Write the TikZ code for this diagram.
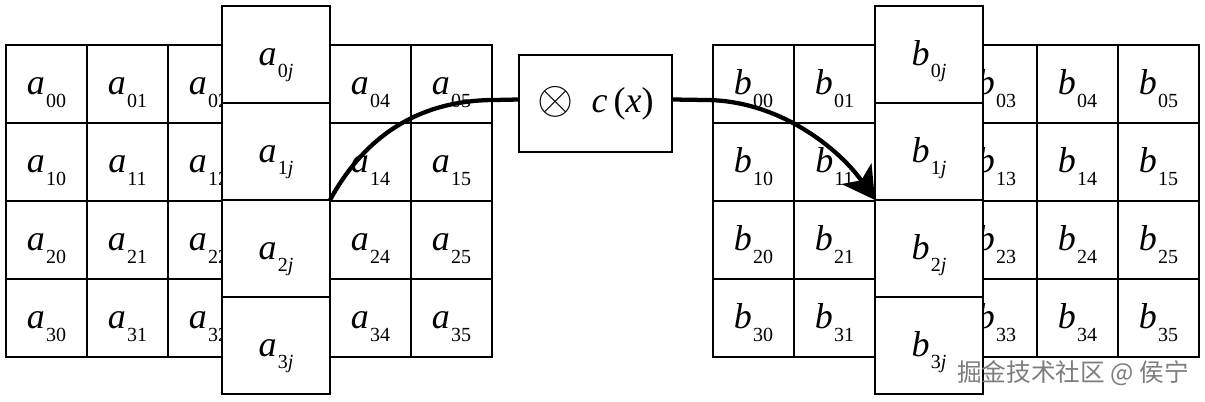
\documentclass[tikz,border=0pt]{standalone}
\usepackage{fontspec}
\setmainfont{Liberation Serif}
\newfontfamily\cjk{Noto Sans CJK SC}
\usetikzlibrary{arrows.meta}
\newcommand{\el}[2]{\textit{#1}\kern0.8pt\raisebox{-9.5pt}{\fontsize{15}{15}\selectfont #2}}
\tikzset{
  x=0.75pt, y=-0.75pt,
  cell/.style={draw, line width=2.2pt, rectangle, inner sep=0pt, outer sep=0pt,
    minimum width=60.75pt, minimum height=58.5pt,
    text height=21pt, text depth=5pt, font=\fontsize{27}{27}\selectfont},
  bandcell/.style={cell, fill=white, minimum width=81pt, minimum height=72.75pt},
  opbox/.style={draw, line width=2.2pt, rectangle, inner sep=0pt, outer sep=0pt,
    minimum width=114.75pt, minimum height=72.75pt, font=\fontsize{27}{27}\selectfont},
  conn/.style={line width=3.2pt},
  wmark/.style={font=\cjk\fontsize{18.5}{18.5}\selectfont, text={rgb,255:red,125;green,125;blue,125}}
}
\begin{document}
\begin{tikzpicture}
\useasboundingbox (0,0) rectangle (1205,402);
% left grid
\foreach \r in {0,...,3}{
  \foreach \c in {0,...,5}{
    \node[cell] (a\r\c) at ({6+81*(\c+0.5)},{45+78*(\r+0.5)}) {\ifnum\c=3 \else\el{a}{\r\c}\fi};
  }
}
% right grid
\foreach \r in {0,...,3}{
  \foreach \c in {0,...,5}{
    \node[cell] (b\r\c) at ({713+81*(\c+0.5)},{45+78*(\r+0.5)}) {\ifnum\c=2 \else\el{b}{\r\c}\fi};
  }
}
% column bands
\foreach \r in {0,...,3}{
  \node[bandcell] (a\r j) at (276,{6+97*(\r+0.5)}) {\el{a}{\r\textit{j}}};
  \node[bandcell] (b\r j) at (929,{6+97*(\r+0.5)}) {\el{b}{\r\textit{j}}};
}
% operator box
\node[opbox] (cx) at (595.5,103.5) {\raisebox{-0.6pt}{\scalebox{1.4}{$\otimes$}}\ \ \textit{c}\,(\textit{x})};
% connectors
\draw[conn] (a1j.south east) .. controls (360,145) and (410,100) .. (495,100) -- ([yshift=3pt]cx.west);
\draw[conn,-{Stealth[length=24pt,width=27pt,inset=6pt]}] ([yshift=3pt]cx.east) -- (705,100)
  .. controls (780,100) and (840,150) .. (b1j.south west);
% watermark
\node[wmark] (wm) at (1073,373) {掘金技术社区 @ 侯宁};
\end{tikzpicture}
\end{document}
